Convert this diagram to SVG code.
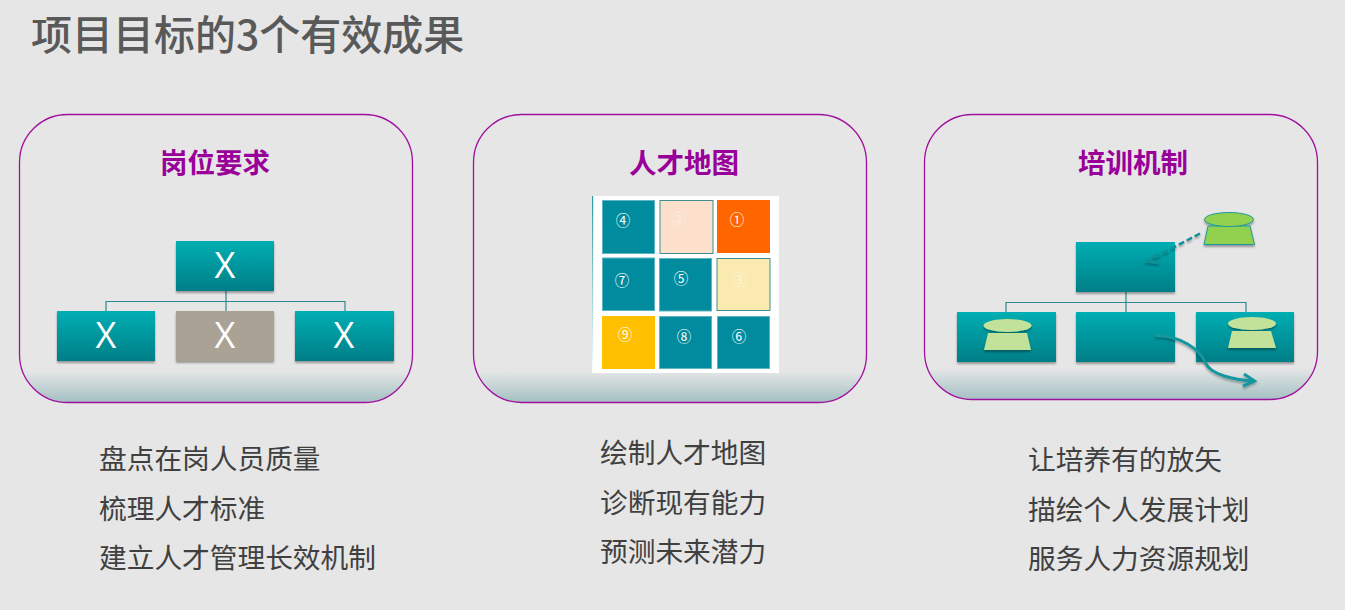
<svg xmlns="http://www.w3.org/2000/svg" width="1345" height="610" viewBox="0 0 1345 610">
<style>
.cjk{font-family:"Noto Sans CJK SC","Liberation Sans",sans-serif}
.t{font-size:27.700px;fill:#404040}
.h{font-size:27.500px;font-weight:700;fill:#990099;text-anchor:middle}
.x{font-family:"Open Sans","Liberation Sans",sans-serif;font-size:36px;fill:#fff;text-anchor:middle}
.card{fill:url(#cardFill);stroke:#a0109e;stroke-width:1.3}
.b{fill:url(#teal);filter:url(#sh)}
.g{fill:#aaa395;filter:url(#sh)}
.ln{fill:none;stroke:#2c8a90;stroke-width:1.2}
.c{fill:#008c9e;stroke:#5fb4bf;stroke-width:1}
.n{font-family:"Noto Sans CJK SC",sans-serif;font-size:14.500px;fill:#fff;text-anchor:middle}
</style>
<defs>
<linearGradient id="teal" x1="0" y1="0" x2="0" y2="1"><stop offset="0" stop-color="#00aeb3"/><stop offset="1" stop-color="#007e87"/></linearGradient>
<linearGradient id="cardFill" x1="0" y1="0" x2="0" y2="1"><stop offset="0.89" stop-color="#e6e6e6"/><stop offset="1" stop-color="#a4c0c3"/></linearGradient>
<linearGradient id="edge" x1="0" y1="0" x2="0" y2="1"><stop offset="0" stop-color="#2c9aa0"/><stop offset="1" stop-color="#ffffff"/></linearGradient>
<filter id="sh" x="-10%" y="-10%" width="120%" height="125%"><feDropShadow dx="0" dy="2" stdDeviation="1.3" flood-color="#000" flood-opacity="0.35"/></filter>
<filter id="ash" x="-20%" y="-30%" width="140%" height="160%"><feDropShadow dx="0" dy="2" stdDeviation="1.200" flood-color="#000" flood-opacity="0.3"/></filter>
</defs>
<rect id="background" width="1345" height="610" fill="#e6e6e6"/>
<text id="title" class="cjk" x="31" y="50" font-size="41" font-weight="500" fill="#595959">项目目标的3个有效成果</text>

<g id="card-1">
<rect class="card" x="19.500" y="114.500" width="393" height="288" rx="48"/>
<text class="cjk h" x="215" y="173">岗位要求</text>
</g>
<g id="card-2">
<rect class="card" x="473.500" y="114.500" width="393" height="288" rx="48"/>
<text class="cjk h" x="684" y="173">人才地图</text>
</g>
<g id="card-3">
<rect class="card" x="924.500" y="114.500" width="393" height="285" rx="48"/>
<text class="cjk h" x="1133" y="173">培训机制</text>
</g>

<g id="connectors">
<path class="ln" d="M226 291V311M106 311V301.500H345V311"/>
<path class="ln" d="M1126 292V312M1006 312V302.500H1246V312"/>
</g>

<g id="org1-top"><rect class="b" x="176" y="241" width="98" height="50"/><text class="x" x="225" y="278">X</text></g>
<g id="org1-left"><rect class="b" x="57" y="311" width="98" height="50"/><text class="x" x="106" y="348">X</text></g>
<g id="org1-mid"><rect class="g" x="176" y="311" width="98" height="50"/><text class="x" x="225" y="348">X</text></g>
<g id="org1-right"><rect class="b" x="295" y="311" width="99" height="50"/><text class="x" x="344" y="348">X</text></g>

<g id="grid">
<rect x="592" y="196" width="187" height="177" fill="#fff"/>
<rect x="592" y="196" width="1.200" height="177" fill="url(#edge)"/>
<g id="cell-4"><rect class="c" x="602.500" y="200.500" width="52" height="53"/><text class="n" x="623" y="225.500">④</text></g>
<g id="cell-2"><rect x="660" y="200.500" width="53" height="53" fill="#fce0cc" stroke="#3d8f90"/><text class="n" x="678.500" y="224.500" style="fill:#fbeee4">②</text></g>
<g id="cell-1"><rect x="717" y="200" width="53" height="53" fill="#ff6600"/><text class="n" x="737" y="224.500">①</text></g>
<g id="cell-7"><rect class="c" x="602.500" y="258" width="52" height="52.500"/><text class="n" x="622" y="285.500">⑦</text></g>
<g id="cell-5"><rect class="c" x="659.500" y="258.500" width="52" height="52.500"/><text class="n" x="681" y="283.500">⑤</text></g>
<g id="cell-3"><rect x="717" y="258.500" width="53" height="52" fill="#faeab0" stroke="#3d8f90"/><text class="n" x="739.500" y="284.500" style="fill:#fdf5dc">③</text></g>
<g id="cell-9"><rect x="602" y="316" width="53" height="53" fill="#ffc000"/><text class="n" x="625" y="340">⑨</text></g>
<g id="cell-8"><rect class="c" x="659.500" y="316.500" width="52" height="52"/><text class="n" x="684" y="342">⑧</text></g>
<g id="cell-6"><rect class="c" x="717.500" y="316.500" width="52" height="52"/><text class="n" x="739" y="342">⑥</text></g>
</g>

<g id="org2-top"><rect class="b" x="1076" y="242" width="99" height="50"/></g>
<g id="org2-left"><rect class="b" x="957" y="312" width="99" height="50"/></g>
<g id="org2-mid"><rect class="b" x="1076" y="312" width="99" height="50"/></g>
<g id="org2-right"><rect class="b" x="1196" y="312" width="98" height="50"/></g>

<g id="person-top" filter="url(#sh)"><path d="M1208 226H1250L1254.500 244.500H1204Z" fill="#92d050" stroke="#1b9a9a"/><ellipse cx="1229" cy="219.500" rx="24.500" ry="7" fill="#92d050" stroke="#1b9a9a"/></g>
<g id="person-left" filter="url(#sh)"><path d="M988 333H1027L1031 350H984Z" fill="#c2e29a"/><ellipse cx="1007.500" cy="325.500" rx="24" ry="6.500" fill="#c2e29a"/></g>
<g id="person-right" filter="url(#sh)"><path d="M1232 331H1271L1276 348H1228Z" fill="#c2e29a"/><ellipse cx="1252" cy="323.500" rx="24" ry="6.500" fill="#c2e29a"/></g>

<g id="arrows" filter="url(#ash)">
<path d="M1200 233.500L1149 260.500" fill="none" stroke="#0f8f98" stroke-width="2.500" stroke-dasharray="6 3"/>
<path d="M1157 254L1147 261.500L1159 263" fill="none" stroke="#0f8f98" stroke-width="2.500"/>
<path d="M1155 335.500C1180 335 1200 350 1205 362C1210 375 1235 380 1253 381" fill="none" stroke="#16969e" stroke-width="3"/>
<path d="M1244 374L1254.500 381L1243 386" fill="none" stroke="#16969e" stroke-width="3"/>
</g>

<g id="list-1" class="cjk t"><text x="99" y="468.500">盘点在岗人员质量</text><text x="99" y="518.500">梳理人才标准</text><text x="99" y="567.500">建立人才管理长效机制</text></g>
<g id="list-2" class="cjk t"><text x="600" y="462.500">绘制人才地图</text><text x="600" y="512.500">诊断现有能力</text><text x="600" y="561.500">预测未来潜力</text></g>
<g id="list-3" class="cjk t"><text x="1028" y="469.500">让培养有的放矢</text><text x="1028" y="519.500">描绘个人发展计划</text><text x="1028" y="568.500">服务人力资源规划</text></g>
</svg>
